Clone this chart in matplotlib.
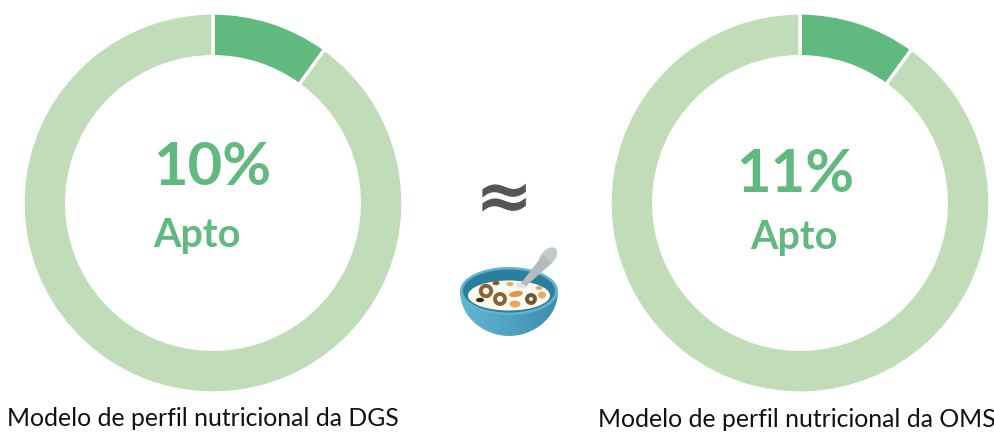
import numpy as np
import matplotlib
matplotlib.use("Agg")
import matplotlib.pyplot as plt
from matplotlib.patches import Ellipse, PathPatch, Polygon, Circle
from matplotlib.path import Path

plt.rcParams['font.family'] = ['Lato', 'DejaVu Sans']

W, H = 994, 432
DARK = '#60b97f'
LIGHT = '#c1dcb9'

# share of "apto" products, as drawn in the rings and as printed in the centre
left_values = [10, 90]
right_values = [10, 90]
left_pct = '10%'
right_pct = '11%'
status = 'Apto'
left_title = 'Modelo de perfil nutricional da DGS'
right_title = 'Modelo de perfil nutricional da OMS'


def donut(fig, cx, cy, values):
  r = 190
  ax = fig.add_axes([(cx - r) / W, 1 - (cy + r) / H, 2 * r / W, 2 * r / H])
  ax.pie(values, colors=[DARK, LIGHT], startangle=90, counterclock=False, radius=1,
         wedgeprops=dict(width=0.23, edgecolor='white', linewidth=2.4))
  ax.set_xlim(-1, 1)
  ax.set_ylim(-1, 1)
  ax.axis('off')


def ring(ax, x, y, r, color):
  ax.add_patch(Circle((x, y), r, fill=False, ec=color, lw=2.8, zorder=6))


def blob(ax, x, y, w, h, color, angle=0):
  ax.add_patch(Ellipse((x, y), w, h, angle=angle, fc=color, ec='none', zorder=6))


def bowl(ax):
  # body with a horizontal gradient
  verts = [(460, 291), (460, 318), (485, 336), (509, 336), (533, 336), (558, 318), (558, 291),
           (460, 291)]
  codes = [Path.MOVETO, Path.CURVE4, Path.CURVE4, Path.CURVE4, Path.CURVE4, Path.CURVE4, Path.CURVE4,
           Path.CLOSEPOLY]
  body = PathPatch(Path(verts, codes), fc='none', ec='none')
  ax.add_patch(body)
  grad = np.linspace(0, 1, 64).reshape(1, -1)
  cmap = matplotlib.colors.LinearSegmentedColormap.from_list('b', ['#62b7d4', '#3d8dae'])
  im = ax.imshow(grad, extent=[460, 558, 340, 285], cmap=cmap, aspect='auto', zorder=2)
  im.set_clip_path(body)
  ax.add_patch(Ellipse((509, 291), 98, 48, fc='#62b3d0', ec='none', zorder=3))
  ax.add_patch(Ellipse((509, 291), 92, 43, fc='#2c7f9c', ec='none', zorder=4))
  ax.add_patch(Ellipse((509, 295.5), 82, 30, fc='#fdfbf0', ec='none', zorder=5))
  # spoon
  ax.add_patch(Polygon([(521, 283), (526, 286), (552, 263), (543, 255)], fc='#b4bcc0', ec='none', zorder=7))
  blob(ax, 548, 257, 14, 23, '#c3cacc', angle=42)
  blob(ax, 522, 285, 12, 6, '#e4e2da')
  # cereal
  ring(ax, 486, 291, 5.2, '#8a6236')
  ring(ax, 500, 299, 5, '#8a6236')
  ring(ax, 531, 299, 4, '#6f5a35')
  blob(ax, 516, 294, 14, 6, '#d89a55', angle=-10)
  blob(ax, 515, 304, 11, 7, '#e6a862')
  blob(ax, 542, 295, 8, 7, '#e6a862')
  blob(ax, 539, 288, 7, 4, '#e6a862')
  blob(ax, 510, 284, 7, 4, '#e6a862')
  blob(ax, 496, 283, 7, 4.5, '#8a5a2c')
  blob(ax, 480, 300, 8, 4.5, '#3c2a1c')


fig = plt.figure(figsize=(W / 100, H / 100), dpi=100)
donut(fig, 213, 203, left_values)
donut(fig, 800, 203, right_values)

ax = fig.add_axes([0, 0, 1, 1], facecolor='none')
ax.set_xlim(0, W)
ax.set_ylim(H, 0)
ax.axis('off')

ax.text(212, 168, left_pct, color=DARK, fontsize=43, fontweight='bold', ha='center', va='center')
ax.text(197, 235, status, color=DARK, fontsize=28.5, fontweight='bold', ha='center', va='center')
ax.text(795, 175, right_pct, color=DARK, fontsize=43, fontweight='bold', ha='center', va='center')
ax.text(794, 237, status, color=DARK, fontsize=28.5, fontweight='bold', ha='center', va='center')
ax.text(203, 426.5, left_title, color='#111111', fontsize=17.8, ha='center', va='baseline')
ax.text(797, 427, right_title, color='#111111', fontsize=17.8, ha='center', va='baseline')
ax.text(504, 200, '≈', color='#555555', fontsize=50, family='DejaVu Sans', fontweight='bold',
        ha='center', va='center')

bowl(ax)
ax.set_xlim(0, W)
ax.set_ylim(H, 0)

fig.savefig('out.png', dpi=100)
